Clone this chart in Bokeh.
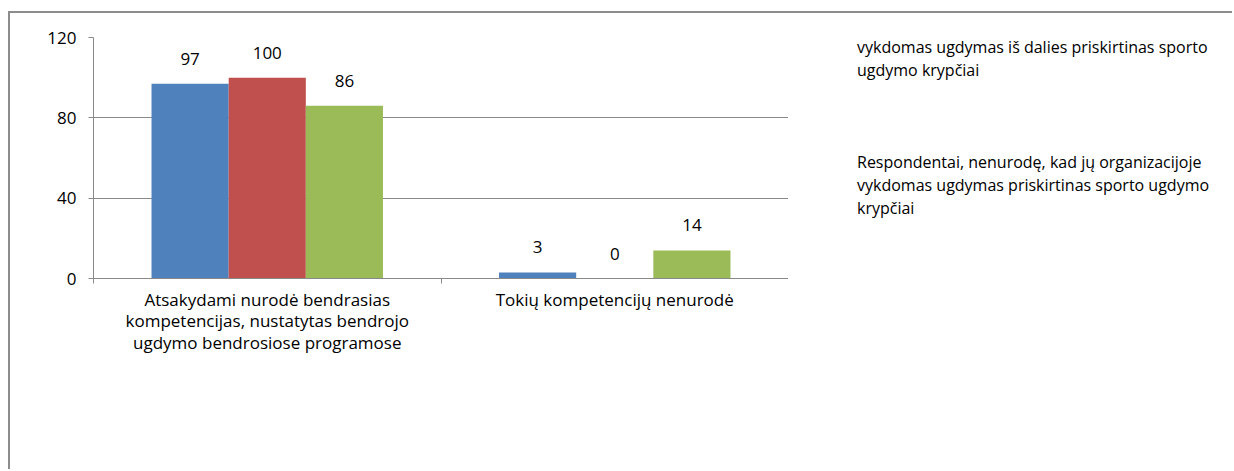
from bokeh.plotting import figure
from bokeh.layouts import row
from bokeh.models import (ColumnDataSource, Range1d, LinearAxis,
                          FixedTicker, Legend, LegendItem)
from bokeh.transform import dodge
from bokeh.core.properties import value
from bokeh.embed import file_html
from bokeh.resources import INLINE

categories = [
    "Atsakydami nurodė bendrasias\nkompetencijas, nustatytas bendrojo\nugdymo bendrosiose programose",
    "Tokių kompetencijų nenurodė",
]
series_names = [
    "Respondentai, nurodę, kad jų organizacijoje\nvykdomas ugdymas tikrai priskirtinas sporto\nugdymo krypčiai",
    "Respondentai, nurodę, kad jų organizacijoje\nvykdomas ugdymas iš dalies priskirtinas sporto\nugdymo krypčiai",
    "Respondentai, nenurodę, kad jų organizacijoje\nvykdomas ugdymas priskirtinas sporto ugdymo\nkrypčiai",
]
tikrai = [97, 3]
is_dalies = [100, 0]
nenurode = [86, 14]
y_ticks = [0, 40, 80, 120]

colors = ["#4F81BD", "#C0504D", "#9BBB59"]
FONT = "Open Sans"
GRAY = "#898989"

ncat = len(categories)
centers = [i + 0.5 for i in range(ncat)]

src = ColumnDataSource(dict(
    xc=centers, s1=tikrai, s2=is_dalies, s3=nenurode,
    l1=[str(v) for v in tikrai], l2=[str(v) for v in is_dalies], l3=[str(v) for v in nenurode],
))

# ---------------- chart figure ----------------
p = figure(x_range=Range1d(0, ncat), y_range=Range1d(0, 120), width=778, height=456,
           output_backend="svg", toolbar_location=None, x_axis_location=None,
           min_border_left=83, min_border_top=24, min_border_right=0,
           min_border_bottom=191)
p.outline_line_color = None
p.background_fill_color = "white"

p.yaxis.ticker = FixedTicker(ticks=y_ticks)
p.yaxis.minor_tick_line_color = None
p.yaxis.major_tick_in = 0
p.yaxis.major_tick_out = 5
p.yaxis.axis_line_color = GRAY
p.yaxis.major_tick_line_color = GRAY
p.yaxis.major_label_text_font = FONT
p.yaxis.major_label_text_font_size = "17px"
p.yaxis.major_label_text_color = "black"
p.yaxis.major_label_standoff = 12
p.ygrid.ticker = FixedTicker(ticks=y_ticks)
p.ygrid.grid_line_color = GRAY
p.xgrid.visible = False

# boundary tick axis (category separators)
edges = list(range(ncat + 1))
edge_axis = LinearAxis(ticker=FixedTicker(ticks=edges),
                       major_label_overrides={e: "" for e in edges},
                       major_label_standoff=0, major_label_text_font_size="1px",
                       major_tick_in=0, major_tick_out=5,
                       minor_tick_line_color=None,
                       axis_line_color=GRAY, major_tick_line_color=GRAY)
p.add_layout(edge_axis, "below")

# category label axis
cat_axis = LinearAxis(ticker=FixedTicker(ticks=centers),
                      major_label_overrides={c: t for c, t in zip(centers, categories)},
                      axis_line_color=None, major_tick_line_color=None,
                      minor_tick_line_color=None,
                      major_tick_out=0, major_tick_in=0,
                      major_label_standoff=4,
                      major_label_text_font=FONT,
                      major_label_text_font_size="17px",
                      major_label_text_color="black",
                      major_label_text_line_height=0.95)
p.add_layout(cat_axis, "below")

w = 0.222
offsets = [-w, 0, w]
for i, (col, lab) in enumerate([("s1", "l1"), ("s2", "l2"), ("s3", "l3")]):
    p.vbar(x=dodge("xc", offsets[i]), top=col, width=w,
           source=src, fill_color=colors[i], line_color=None)
    p.text(x=dodge("xc", offsets[i]), y=col, text=lab, source=src,
           text_align="center", text_baseline="alphabetic", y_offset=-25,
           text_font=value(FONT), text_font_size="17px", text_color="black")

# ---------------- legend figure ----------------
lp = figure(x_range=Range1d(0, 1), y_range=Range1d(0, 1), width=444, height=456,
            output_backend="svg", toolbar_location=None,
            x_axis_location=None, y_axis_location=None,
            min_border_left=0, min_border_right=0, min_border_top=0, min_border_bottom=0)
lp.outline_line_color = None
lp.xgrid.visible = False
lp.ygrid.visible = False

swatches = [lp.vbar(x=[], top=[], width=0.1, fill_color=c, line_color=None) for c in colors]
blank = lp.vbar(x=[], top=[], width=0.1, fill_alpha=0, line_alpha=0)

items = []
for i, name in enumerate(series_names):
    lines = name.split("\n")
    items.append(LegendItem(label=lines[0], renderers=[swatches[i]]))
    for ln in lines[1:]:
        items.append(LegendItem(label=ln, renderers=[blank]))
    if i < len(series_names) - 1:
        for _ in range(3):
            items.append(LegendItem(label=" ", renderers=[blank]))

legend = Legend(items=items, location=(54, 59), orientation="vertical",
                glyph_width=9, glyph_height=9, label_standoff=6, padding=0, margin=0,
                spacing=0, label_height=23, border_line_color=None,
                background_fill_alpha=0,
                label_text_font=FONT, label_text_font_size="16px",
                label_text_line_height=0.9, label_text_color="black")
lp.add_layout(legend, "center")

layout = row(p, lp, spacing=0,
             styles={"border-left": "2px solid #8c8c8c", "border-top": "2px solid #8c8c8c",
                     "margin-top": "11px", "margin-left": "8px"})

open("out.html", "w").write(file_html(layout, INLINE))
